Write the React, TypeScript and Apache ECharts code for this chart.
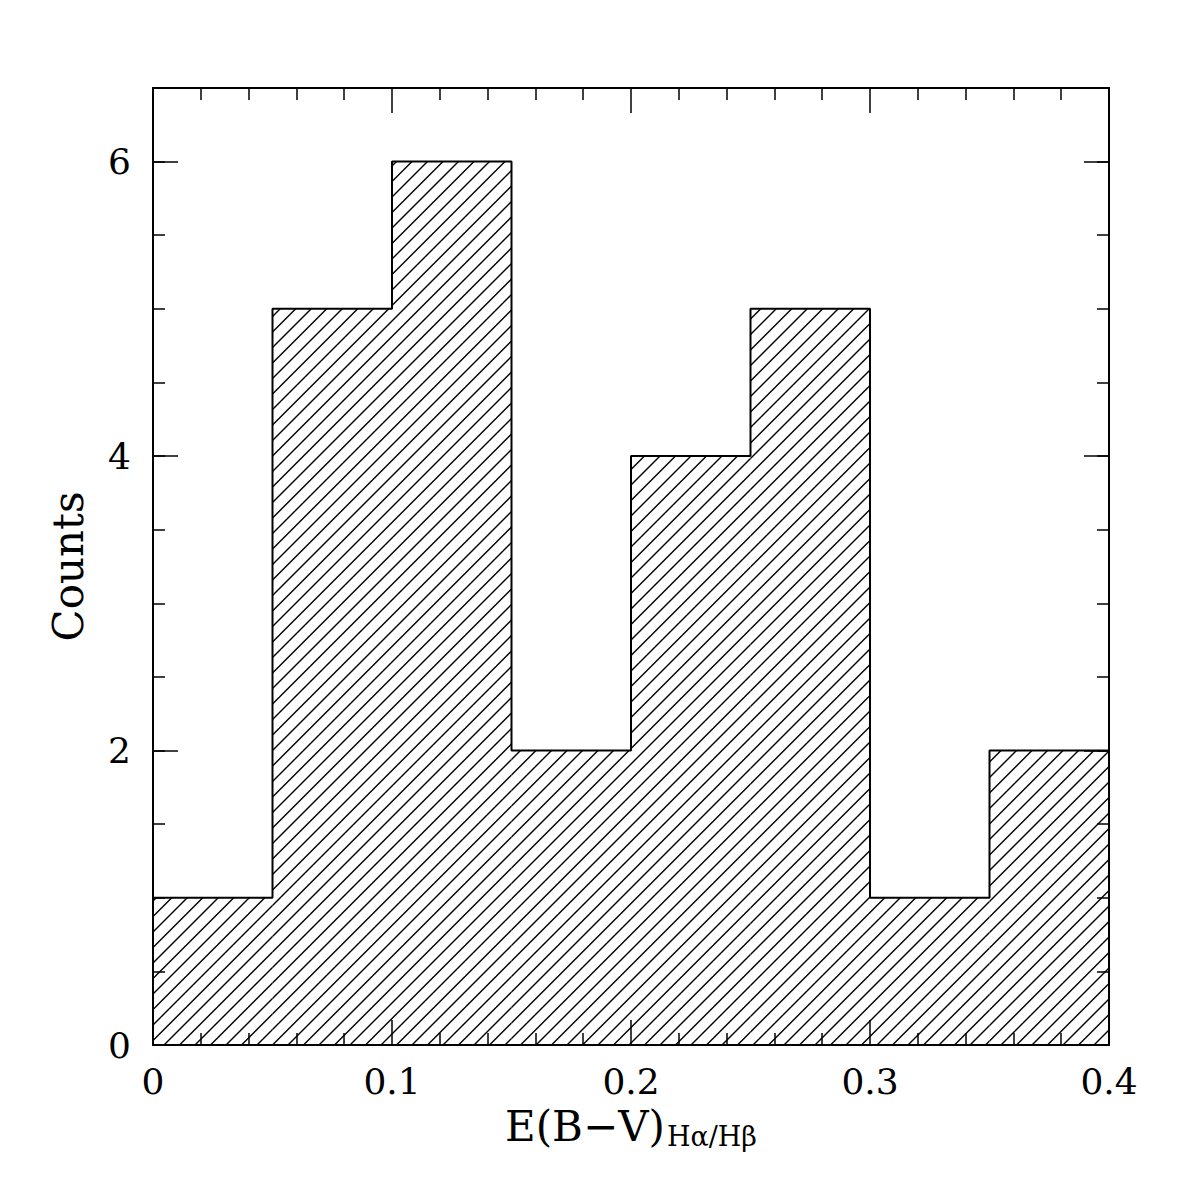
import React, { useEffect, useRef } from 'react';
import * as echarts from 'echarts';

// histogram bins of E(B-V) from the Balmer decrement
const binEdges = [0, 0.05, 0.1, 0.15, 0.2, 0.25, 0.3, 0.35, 0.4];
const binCounts = [1, 5, 6, 2, 4, 5, 1, 2];
const xTickLabels = ['0', '0.1', '0.2', '0.3', '0.4'];
const yTickLabels = ['0', '2', '4', '6'];

const FONT = 'DejaVu Serif';

// diagonal hatch tile (///)
function makeHatch() {
  const size = 31;
  const c = document.createElement('canvas');
  c.width = size;
  c.height = size;
  const ctx = c.getContext('2d')!;
  ctx.strokeStyle = '#000';
  ctx.lineWidth = 1.4;
  [0, 15.5, 31, 46.5, 62].forEach((k) => {
    ctx.beginPath();
    ctx.moveTo(k + 3, -3);
    ctx.lineTo(-3, k + 3);
    ctx.stroke();
  });
  return { image: c, repeat: 'repeat', imageWidth: size, imageHeight: size };
}

const App: React.FC = () => {
  const chartRef = useRef<HTMLDivElement>(null);

  useEffect(() => {
    if (!chartRef.current) return;
    const chart = echarts.init(chartRef.current, undefined, { renderer: 'svg' });
    const hatch = makeHatch();

    const bars = binCounts.map((c, i) => [binEdges[i], binEdges[i + 1], c]);
    const outline = binEdges.map((e, i) => [e, binCounts[Math.min(i, binCounts.length - 1)]]);

    const xFmt = (v: number) => {
      const idx = Math.round(v / 0.1);
      return Math.abs(v - idx * 0.1) < 1e-6 ? xTickLabels[idx] ?? '' : '';
    };
    const yFmt = (v: number) => {
      const idx = Math.round(v / 2);
      return Math.abs(v - idx * 2) < 1e-6 ? yTickLabels[idx] ?? '' : '';
    };

    const line = { show: true, onZero: false, lineStyle: { color: '#000', width: 2 } };
    const noLine = { show: false, onZero: false };
    const tick = (len: number) => ({ show: true, inside: true, length: len, lineStyle: { color: '#000', width: 1.5 } });

    const xBase = {
      type: 'value',
      min: 0,
      max: 0.4,
      interval: 0.1,
      axisLine: line,
      axisTick: tick(25),
      minorTick: { show: true, splitNumber: 5, length: 12, lineStyle: { color: '#000', width: 1.5 } },
      splitLine: { show: false },
      minorSplitLine: { show: false },
      z: 5,
    };
    const yMajor = (pos: string, labels: boolean) => ({
      type: 'value',
      position: pos,
      min: 0,
      max: 6.5,
      interval: 2,
      axisLine: line,
      axisTick: tick(25),
      splitLine: { show: false },
      axisLabel: labels
        ? { show: true, showMaxLabel: false, formatter: yFmt, margin: 22, fontFamily: FONT, fontSize: 36, color: '#000' }
        : { show: false },
      z: 5,
    });
    const yMinor = (pos: string) => ({
      type: 'value',
      position: pos,
      min: 0,
      max: 6.5,
      interval: 0.5,
      axisLine: noLine,
      axisTick: tick(12),
      axisLabel: { show: false },
      splitLine: { show: false },
      z: 5,
    });

    const option = {
      animation: false,
      backgroundColor: '#fff',
      grid: { left: 153, top: 88, right: 87, bottom: 151, containLabel: false },
      xAxis: [
        {
          ...xBase,
          position: 'bottom',
          axisLabel: { formatter: xFmt, margin: 18, fontFamily: FONT, fontSize: 36, color: '#000' },
          name: '{m|E(B\u2212V)}{s|H\u03b1/H\u03b2}',
          nameLocation: 'middle',
          nameGap: 58,
          nameTextStyle: {
            fontFamily: FONT,
            color: '#000',
            rich: {
              m: { fontFamily: FONT, fontSize: 42, color: '#000' },
              s: { fontFamily: FONT, fontSize: 27, color: '#000', padding: [20, 0, 0, 2] },
            },
          },
        },
        { ...xBase, position: 'top', axisLabel: { show: false } },
      ],
      yAxis: [
        {
          ...yMajor('left', true),
          name: 'Counts',
          nameLocation: 'middle',
          nameGap: 64,
          nameTextStyle: { fontFamily: FONT, fontSize: 42, color: '#000' },
        },
        yMinor('left'),
        yMajor('right', false),
        yMinor('right'),
      ],
      series: [
        {
          type: 'custom',
          xAxisIndex: 0,
          yAxisIndex: 0,
          z: 1,
          encode: { x: [0, 1], y: 2 },
          data: bars,
          renderItem: (_params: any, api: any) => {
            const p0 = api.coord([api.value(0), api.value(2)]);
            const p1 = api.coord([api.value(1), 0]);
            return {
              type: 'rect',
              shape: { x: p0[0], y: p0[1], width: p1[0] - p0[0], height: p1[1] - p0[1] },
              style: { fill: hatch, stroke: null },
            };
          },
        },
        {
          type: 'line',
          xAxisIndex: 0,
          yAxisIndex: 0,
          z: 3,
          step: 'end',
          symbol: 'none',
          data: outline,
          lineStyle: { color: '#000', width: 2 },
        },
      ],
    };

    chart.setOption(option as any);
    return () => chart.dispose();
  }, []);

  return (
    <div
      ref={chartRef}
      style={{ position: 'absolute', left: 0, top: 0, width: 1196, height: 1196, background: '#fff' }}
    />
  );
};

export default App;
